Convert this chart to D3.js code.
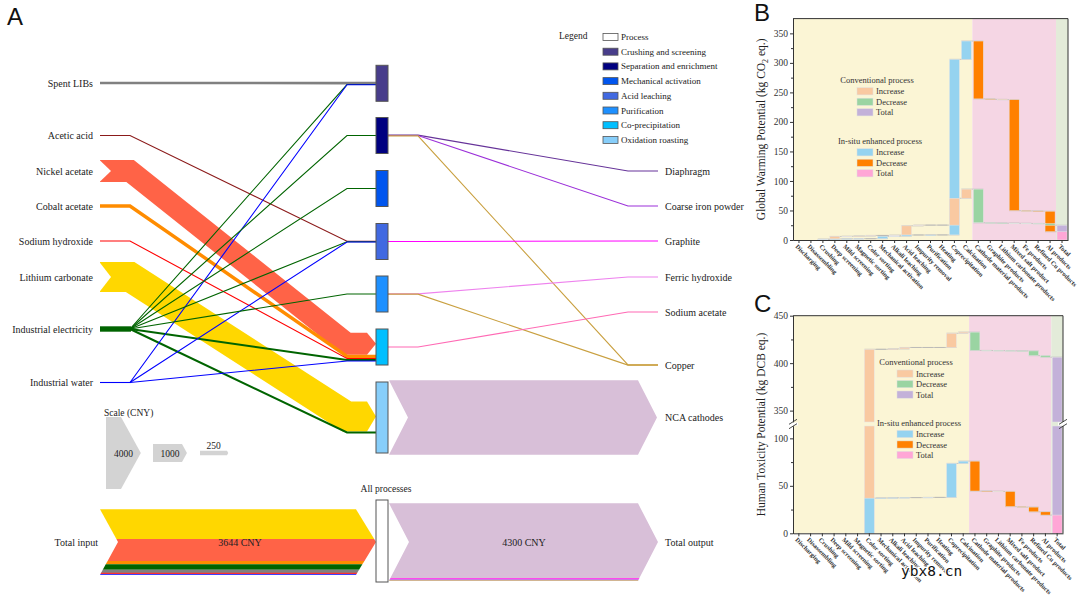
<!DOCTYPE html>
<html>
<head>
<meta charset="utf-8">
<script src="https://cdn.jsdelivr.net/npm/d3@7"></script>
<style>
  body { margin: 0; background: #fff; }
  #chart { font-family: "Liberation Serif", "Times New Roman", serif; }
</style>
</head>
<body>
<svg id="chart" width="1080" height="601"></svg>
<script>
// ----------- PANEL A DATA (CNY) ------------
const inputNames = ["Spent LIBs", "Acetic acid", "Nickel acetate", "Cobalt acetate", "Sodium hydroxide", "Lithium carbonate", "Industrial electricity", "Industrial water"];
const inputColors = ["#808080", "#8b1a1a", "#ff6347", "#ff8c00", "#ff0000", "#ffd700", "#006400", "#0000ff"];
const processNames = ["Crushing and screening", "Separation and enrichment", "Mechanical activation", "Acid leaching", "Purification", "Co-precipitation", "Oxidation roasting"];
const processColors = ["#483d8b", "#000080", "#0055ee", "#4169e1", "#1e90ff", "#00bfff", "#87cefa"];
const outputNames = ["Diaphragm", "Coarse iron powder", "Graphite", "Ferric hydroxide", "Sodium acetate", "Copper", "NCA cathodes"];
const outputColors = ["#663399", "#9b30d9", "#ff00ff", "#ee82ee", "#ff69b4", "#c9a040", "#d8bfd8"];

// [input, process, CNY]
const inputFlows = [
    ["Spent LIBs", "Crushing and screening", 150],
    ["Industrial electricity", "Crushing and screening", 15],
    ["Industrial water", "Crushing and screening", 15],
    ["Industrial electricity", "Separation and enrichment", 15],
    ["Industrial electricity", "Mechanical activation", 15],
    ["Acetic acid", "Acid leaching", 40],
    ["Industrial electricity", "Acid leaching", 15],
    ["Industrial water", "Acid leaching", 15],
    ["Industrial electricity", "Purification", 15],
    ["Nickel acetate", "Co-precipitation", 1214],
    ["Cobalt acetate", "Co-precipitation", 190],
    ["Sodium hydroxide", "Co-precipitation", 45],
    ["Industrial electricity", "Co-precipitation", 110],
    ["Industrial water", "Co-precipitation", 15],
    ["Lithium carbonate", "Oxidation roasting", 1660],
    ["Industrial electricity", "Oxidation roasting", 115],
];
// [process, output, CNY]
const outputFlows = [
    ["Separation and enrichment", "Diaphragm", 20],
    ["Separation and enrichment", "Coarse iron powder", 25],
    ["Separation and enrichment", "Copper", 12],
    ["Acid leaching", "Graphite", 35],
    ["Purification", "Ferric hydroxide", 15],
    ["Purification", "Copper", 13],
    ["Co-precipitation", "Sodium acetate", 30],
    ["Oxidation roasting", "NCA cathodes", 4150],
];
const scaleValues = [4000, 1000, 250];
const totalInputOrder = ["Lithium carbonate", "Nickel acetate", "Cobalt acetate", "Industrial electricity", "Spent LIBs", "Acetic acid", "Sodium hydroxide", "Industrial water"];
const totalOutputOrder = ["NCA cathodes", "Graphite", "Sodium acetate", "Ferric hydroxide", "Coarse iron powder", "Diaphragm", "Copper"];

// ----------- PANEL B / C DATA ------------
const wfCategories = ["Discharging", "Disassembling", "Crushing", "Deep screening", "Mild screening", "Magnetic sorting", "Color sorting", "Mechanical activation", "Alkali leaching", "Acid leaching", "Impurity removal", "Purification", "Heating", "Coprecipitation", "Calcination", "Cathode material products", "Graphite products", "Lithium carbonate products", "Mixed salt product", "Fe products", "Refined Cu products", "Al products", "Total"];
// step changes per stage (Total is the running sum)
const gwpConventional = [0, 0, 1.5, 4.5, 0.3, 0.4, 1, 0, 0.5, 15.8, 1.2, 0, 0, 45.5, 15.5, -57, -0.4, -0.3, -0.2, -0.3, -0.3, -2.7];
const gwpInsitu = [0, 0, 1, 0.8, 0.2, 0.2, 0, 4, 0.3, 2, 0, 0.1, 0, 297.4, 31, -98, -0.8, -0.5, -188, -0.5, -0.4, -34.8];
const htpConventional = [0, 0, 0, 0, 0, 0, 414.6, 0, 0.4, 1.5, 0, 0, 0, 15, 1.2, -19.3, -0.1, -0.1, -0.2, -0.1, -5, -1.6];
const htpInsitu = [0, 0, 0, 0, 0, 0, 37, 0.2, 0.2, 0.2, 0, 0.2, 0, 35.8, 2.4, -31.5, -0.2, -0.2, -16, -0.5, -5, -3.4];
const gwpTicks = [0, 50, 100, 150, 200, 250, 300, 350];
const gwpMinor = [25, 75, 125, 175, 225, 275, 325];
const htpUpperTicks = [350, 400, 450], htpUpperMinor = [375, 425];
const htpLowerTicks = [0, 50, 100], htpLowerMinor = [25, 75];
const legendRows = ["Increase", "Decrease", "Total"];
const CONV_COLORS = ["#f9c9a1", "#9ad4a2", "#c3b1d9"];
const INSITU_COLORS = ["#95d3f0", "#ff8000", "#ffa6d6"];

const svg = d3.select("#chart");
const SERIF = "Liberation Serif, Times New Roman, serif";
const SANS = "Liberation Sans, Arial, sans-serif";

// ----------- PANEL A ------------
const px = d3.scaleLinear().domain([0, 4000]).range([0, 72]);
const lw = v => Math.max(1.1, px(v));
const X = { src: 100, stub: 130, diag: 347, node: 376, nodeW: 12, out1: 418, out2: 628, out3: 658 };
const inputY = [83, 135.5, 171, 206, 241, 277, 329, 382.5];
const procY = [83.3, 135.5, 188.5, 241.5, 294, 347, 417.5];
const procH = [36, 36, 36, 36, 36, 36, 71];
const outputY = [171, 206, 241, 277, 312, 365, 417.5];

const gA = svg.append("g");
const inTot = d3.rollup(inputFlows, v => d3.sum(v, d => d[2]), d => d[0]);
const outTot = d3.rollup(outputFlows, v => d3.sum(v, d => d[2]), d => d[1]);

// stack flow centres on a node
const stackAt = (flows, keyIdx, names, centres) => {
    const m = new Map();
    names.forEach((n, i) => {
        const fl = flows.filter(f => f[keyIdx] === n);
        let y = centres[i] - d3.sum(fl, f => px(f[2])) / 2;
        fl.forEach(f => { m.set(f, y + px(f[2]) / 2); y += px(f[2]); });
    });
    return m;
};
const inAtProc = stackAt(inputFlows, 1, processNames, procY);
const outAtProc = stackAt(outputFlows, 0, processNames, procY);
const inAtOutput = stackAt(outputFlows, 1, outputNames, outputY);

// polygon for a layer of a chevron shaped band
const chevronLayer = (x0, notch, xb, tip, cy, H, y0, y1) => {
    const f = y => 1 - Math.abs(y - cy) / (H / 2);
    const left = [[x0 + notch * f(y0), y0]];
    if (y0 < cy && y1 > cy) left.push([x0 + notch, cy]);
    left.push([x0 + notch * f(y1), y1]);
    const right = [[xb + tip * f(y1), y1]];
    if (y0 < cy && y1 > cy) right.push([xb + tip, cy]);
    right.push([xb + tip * f(y0), y0]);
    return "M" + left.concat(right).map(p => p.join(",")).join("L") + "Z";
};

// input side
const multi = inputNames.filter(n => inputFlows.filter(f => f[0] === n).length > 1);
const sortedIn = inputFlows.slice().sort((a, b) => b[2] - a[2]);
sortedIn.forEach(f => {
    const i = inputNames.indexOf(f[0]);
    const ys = inputY[i], yt = inAtProc.get(f), w = px(f[2]);
    const big = w > 10;
    const xEnd = big ? X.node - 9 : X.node;
    const start = multi.includes(f[0]) ? `M${X.stub},${ys}` : `M${X.src},${ys}H${X.stub}`;
    gA.append("path")
        .attr("d", `${start}L${X.diag},${yt}H${xEnd}`)
        .attr("fill", "none")
        .attr("stroke", inputColors[i])
        .attr("stroke-width", lw(f[2]))
        .attr("stroke-linejoin", "miter")
        .attr("stroke-miterlimit", 10);
    if (big) {
        gA.append("path").attr("d", `M${xEnd},${yt - w / 2}L${X.node},${yt}L${xEnd},${yt + w / 2}Z`).attr("fill", inputColors[i]);
        gA.append("path").attr("d", `M${X.src - 1},${ys - w / 2 - 0.5}L${X.src + 11},${ys}L${X.src - 1},${ys + w / 2 + 0.5}Z`).attr("fill", "#fff");
    }
});
multi.forEach(n => {
    const i = inputNames.indexOf(n);
    gA.append("line").attr("x1", X.src).attr("x2", X.stub + 1).attr("y1", inputY[i]).attr("y2", inputY[i])
        .attr("stroke", inputColors[i]).attr("stroke-width", lw(inTot.get(n)));
});
inputNames.forEach((n, i) => {
    gA.append("text").attr("x", 93).attr("y", inputY[i] + 3.5).attr("text-anchor", "end")
        .attr("font-size", 10).attr("fill", "#222").text(n);
});

// output side
outputFlows.forEach(f => {
    const o = outputNames.indexOf(f[1]);
    const ys = outAtProc.get(f), yt = inAtOutput.get(f), w = px(f[2]);
    if (w > 10) {
        gA.append("path").attr("d", chevronLayer(389, 19, 638, 19, ys, w, ys - w / 2, ys + w / 2)).attr("fill", outputColors[o]);
    } else {
        gA.append("path")
            .attr("d", `M${X.node + X.nodeW},${ys}H${X.out1}L${X.out2},${yt}H${X.out3}`)
            .attr("fill", "none").attr("stroke", outputColors[o]).attr("stroke-width", lw(f[2]));
    }
});
outputNames.forEach((n, i) => {
    gA.append("text").attr("x", 665).attr("y", outputY[i] + 3.5)
        .attr("font-size", 10).attr("fill", "#222").text(n);
});

// process nodes
processNames.forEach((p, i) => {
    gA.append("rect").attr("x", X.node).attr("y", procY[i] - procH[i] / 2)
        .attr("width", X.nodeW).attr("height", procH[i])
        .attr("fill", processColors[i]).attr("stroke", "#555").attr("stroke-width", 1);
});

// legend
gA.append("text").attr("x", 559).attr("y", 38.5).attr("font-size", 9.5).attr("fill", "#222").text("Legend");
["Process"].concat(processNames).forEach((n, i) => {
    const y = 37 + i * 14.7;
    gA.append("rect").attr("x", 603).attr("y", y - 3.5).attr("width", 15).attr("height", 7)
        .attr("fill", i === 0 ? "#fff" : processColors[i - 1]).attr("stroke", "#555").attr("stroke-width", 0.8);
    gA.append("text").attr("x", 621).attr("y", y + 3).attr("font-size", 9).attr("fill", "#222").text(n);
});

// scale
gA.append("text").attr("x", 104).attr("y", 416).attr("font-size", 9.5).attr("fill", "#222").text("Scale (CNY)");
const scaleX0 = [106, 153, 200], scaleX1 = [121, 182, 227];
scaleValues.forEach((v, i) => {
    const h = px(v), cy = 453, tip = 0.55 * h / 2;
    gA.append("path").attr("d", chevronLayer(scaleX0[i], 0, scaleX1[i], tip, cy, h, cy - h / 2, cy + h / 2)).attr("fill", "#d3d3d3");
    const small = h < 8;
    gA.append("text").attr("x", small ? (scaleX0[i] + scaleX1[i]) / 2 : (scaleX0[i] + scaleX1[i] + tip) / 2)
        .attr("y", small ? cy - 4 : cy + 3.5).attr("text-anchor", "middle")
        .attr("font-size", 9.5).attr("fill", "#222").text(v);
});

// totals
const inputTotal = d3.sum(inputFlows, d => d[2]);
const outputTotal = d3.sum(outputFlows, d => d[2]);
const cyT = 542;
let yy = cyT - px(inputTotal) / 2;
totalInputOrder.forEach(n => {
    const h = px(inTot.get(n));
    gA.append("path").attr("d", chevronLayer(100, 18, 356, 20, cyT, px(inputTotal), yy, yy + h))
        .attr("fill", inputColors[inputNames.indexOf(n)]);
    yy += h;
});
yy = cyT - px(outputTotal) / 2;
totalOutputOrder.forEach(n => {
    const h = px(outTot.get(n));
    gA.append("path").attr("d", chevronLayer(389, 20, 638, 20, cyT, px(outputTotal), yy, yy + h))
        .attr("fill", outputColors[outputNames.indexOf(n)]);
    yy += h;
});
gA.append("rect").attr("x", X.node).attr("y", 500).attr("width", X.nodeW).attr("height", 82)
    .attr("fill", "#fff").attr("stroke", "#555").attr("stroke-width", 1);
gA.append("text").attr("x", 386).attr("y", 492).attr("text-anchor", "middle").attr("font-size", 9.5).attr("fill", "#222").text("All processes");
gA.append("text").attr("x", 98).attr("y", cyT + 3.5).attr("text-anchor", "end").attr("font-size", 10).attr("fill", "#222").text("Total input");
gA.append("text").attr("x", 240).attr("y", cyT + 3.5).attr("text-anchor", "middle").attr("font-size", 10).attr("fill", "#222").text(inputTotal + " CNY");
gA.append("text").attr("x", 524).attr("y", cyT + 3.5).attr("text-anchor", "middle").attr("font-size", 10).attr("fill", "#222").text(outputTotal + " CNY");
gA.append("text").attr("x", 665).attr("y", cyT + 3.5).attr("font-size", 10).attr("fill", "#222").text("Total output");
gA.append("text").attr("x", 7).attr("y", 25).attr("font-family", SANS).attr("font-size", 24).attr("fill", "#111").text("A");

// ----------- PANELS B, C (WATERFALL) ------------
const waterfall = (cfg) => {
    const g = svg.append("g");
    const x = d3.scaleBand().domain(wfCategories).range([cfg.x0, cfg.x1]).paddingInner(0.16).paddingOuter(0.08);
    const ys = cfg.segs.map(s => d3.scaleLinear().domain(s.dom).range(s.rng));
    const yTop = d3.min(cfg.segs, s => s.rng[1]), yBot = d3.max(cfg.segs, s => s.rng[0]);
    const edge = i => cfg.x0 + i * x.step();

    // background regions
    [[0, 15, "#fbf5d5"], [15, 22, "#f5d6e4"], [22, 23, "#e3ebd9"]].forEach(r => {
        g.append("rect").attr("x", edge(r[0])).attr("width", edge(r[1]) - edge(r[0]))
            .attr("y", yTop).attr("height", yBot - yTop).attr("fill", r[2]);
    });

    const bars = [], links = [];
    cfg.series.forEach(s => {
        const cum = Array.from(d3.cumsum(s.steps));
        s.steps.forEach((d, i) => {
            const a = i ? cum[i - 1] : 0, b = cum[i];
            if (d !== 0) bars.push({ cat: wfCategories[i], lo: Math.min(a, b), hi: Math.max(a, b), fill: d > 0 ? s.colors[0] : s.colors[1] });
            links.push({ v: b, from: wfCategories[i], to: wfCategories[i + 1] });
        });
        bars.push({ cat: "Total", lo: 0, hi: cum[cum.length - 1], fill: s.colors[2] });
    });

    // connectors
    links.forEach(l => {
        cfg.segs.forEach((s, k) => {
            if (l.v < s.dom[0] || l.v > s.dom[1] || l.v === 0) return;
            g.append("line").attr("x1", x(l.from)).attr("x2", x(l.to) + x.bandwidth())
                .attr("y1", ys[k](l.v)).attr("y2", ys[k](l.v))
                .attr("stroke", "#b5b5b5").attr("stroke-width", 0.7);
        });
    });
    // bars, larger first
    bars.sort((a, b) => (b.hi - b.lo) - (a.hi - a.lo)).forEach(b => {
        cfg.segs.forEach((s, k) => {
            const lo = Math.max(b.lo, s.dom[0]), hi = Math.min(b.hi, s.dom[1]);
            if (hi <= lo) return;
            g.append("rect").attr("x", x(b.cat)).attr("width", x.bandwidth())
                .attr("y", ys[k](hi)).attr("height", Math.max(0.6, ys[k](lo) - ys[k](hi)))
                .attr("fill", b.fill).attr("stroke", "#e6e6e6").attr("stroke-width", 0.5);
        });
    });

    // axes
    const styleAxis = sel => {
        sel.attr("font-family", SERIF).attr("font-size", 9.5);
        sel.selectAll("path, line").attr("stroke", "#333");
        sel.selectAll("text").attr("fill", "#333");
    };
    cfg.segs.forEach((s, k) => {
        g.append("g").attr("transform", `translate(${cfg.x0},0)`)
            .call(d3.axisLeft(ys[k]).tickValues(s.ticks).tickSize(3).tickSizeOuter(0).tickPadding(2)).call(styleAxis);
        g.append("g").attr("transform", `translate(${cfg.x0},0)`)
            .call(d3.axisLeft(ys[k]).tickValues(s.minor).tickSize(2).tickSizeOuter(0).tickFormat("")).call(styleAxis);
        g.append("line").attr("x1", cfg.x1).attr("x2", cfg.x1).attr("y1", s.rng[0]).attr("y2", s.rng[1]).attr("stroke", "#333");
    });
    g.append("line").attr("x1", cfg.x0).attr("x2", cfg.x1).attr("y1", yTop).attr("y2", yTop).attr("stroke", "#333");
    g.append("g").attr("transform", `translate(0,${yBot})`)
        .call(d3.axisBottom(x).tickSize(3).tickSizeOuter(0).tickFormat("")).call(styleAxis);
    wfCategories.forEach(c => {
        g.append("text").attr("transform", `translate(${x(c) + x.bandwidth() / 2 - 4},${yBot + 7}) rotate(45)`)
            .attr("font-size", 6.4).attr("font-weight", "bold").attr("fill", "#333").text(c);
    });

    // axis break marks
    if (cfg.segs.length > 1) {
        const yb = (cfg.segs[0].rng[0] + cfg.segs[1].rng[1]) / 2;
        [cfg.x0, cfg.x1].forEach(xa => {
            g.append("rect").attr("x", xa - 5).attr("y", yb - 1.5).attr("width", 10).attr("height", 3).attr("fill", "#fff");
            [-2.2, 2.2].forEach(d => {
                g.append("line").attr("x1", xa - 4).attr("x2", xa + 4).attr("y1", yb + d + 2.5).attr("y2", yb + d - 2.5)
                    .attr("stroke", "#333").attr("stroke-width", 0.9);
            });
        });
    }

    // legend
    [["Conventional process", CONV_COLORS, cfg.legend.y1, cfg.legend.c1], ["In-situ enhanced process", INSITU_COLORS, cfg.legend.y2, cfg.legend.c2]].forEach(L => {
        g.append("text").attr("x", L[3]).attr("y", L[2] + 3).attr("text-anchor", "middle")
            .attr("font-size", 8.5).attr("fill", "#333").text(L[0]);
        legendRows.forEach((r, i) => {
            const y = L[2] + 11.3 + i * 10.5;
            g.append("rect").attr("x", cfg.legend.x).attr("y", y - 3.6).attr("width", 16).attr("height", 7.2)
                .attr("fill", L[1][i]).attr("stroke", "#e0e0e0").attr("stroke-width", 0.5);
            g.append("text").attr("x", cfg.legend.x + 19).attr("y", y + 3).attr("font-size", 8.5).attr("fill", "#333").text(r);
        });
    });

    // title + panel letter
    const t = g.append("text").attr("transform", `translate(765,${(yTop + yBot) / 2}) rotate(-90)`)
        .attr("text-anchor", "middle").attr("font-size", 11.5).attr("fill", "#222");
    cfg.title.forEach(p => t.append("tspan").attr("font-size", p[1] ? 8 : null).attr("dy", p[1] ? 2.5 : (p[2] ? -2.5 : null)).text(p[0]));
    g.append("text").attr("x", 754).attr("y", cfg.letterY).attr("font-family", SANS).attr("font-size", 24).attr("fill", "#111").text(cfg.letter);
};

waterfall({
    x0: 793, x1: 1068,
    segs: [{ dom: [0, 375], rng: [240, 18.6], ticks: gwpTicks, minor: gwpMinor }],
    series: [{ steps: gwpInsitu, colors: INSITU_COLORS }, { steps: gwpConventional, colors: CONV_COLORS }],
    legend: { x: 857, y1: 80, c1: 877, y2: 141, c2: 880 },
    title: [["Global Warming Potential (kg CO"], ["2", true], [" eq.)", false, true]],
    letter: "B", letterY: 21,
});
waterfall({
    x0: 793, x1: 1063,
    segs: [
        { dom: [338, 450], rng: [422, 315.7], ticks: htpUpperTicks, minor: htpUpperMinor },
        { dom: [0, 113], rng: [533.3, 426], ticks: htpLowerTicks, minor: htpLowerMinor },
    ],
    series: [{ steps: htpInsitu, colors: INSITU_COLORS }, { steps: htpConventional, colors: CONV_COLORS }],
    legend: { x: 897, y1: 362.3, c1: 916, y2: 422.7, c2: 919 },
    title: [["Human Toxicity Potential (kg DCB eq.)"]],
    letter: "C", letterY: 312,
});

// watermark
svg.append("text").attr("x", 901).attr("y", 576).attr("font-family", "DejaVu Sans Mono, monospace")
    .attr("font-size", 14.5).attr("fill", "#111").attr("stroke", "#fff").attr("stroke-width", 2.5)
    .attr("paint-order", "stroke").text("ybx8.cn");
</script>
</body>
</html>
